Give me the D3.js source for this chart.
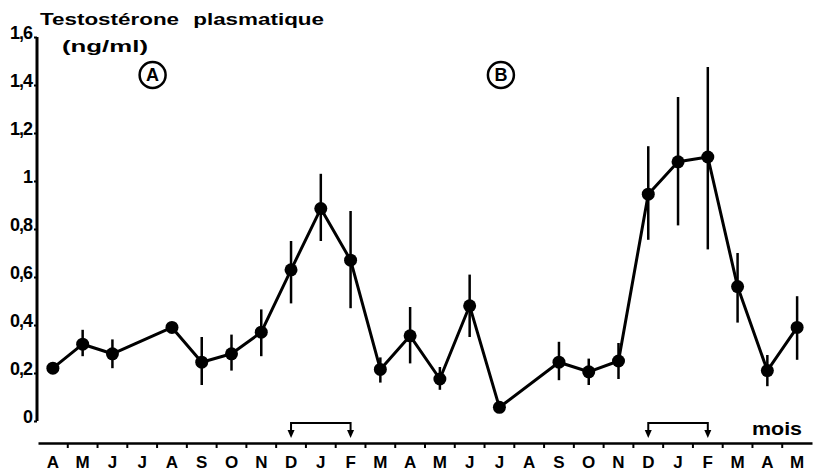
<!DOCTYPE html>
<html>
<head>
<meta charset="utf-8">
<script src="https://cdn.jsdelivr.net/npm/d3@7"></script>
<style>
  body { margin: 0; background: #fff; }
  svg { display: block; font-family: "Liberation Sans", Arial, sans-serif; font-weight: bold; }
</style>
</head>
<body>
<svg width="817" height="471"></svg>
<script>
// months from April (year 1) to May (year 3)
let months = ["A", "M", "J", "J", "A", "S", "O", "N", "D", "J", "F", "M", "A",
              "M", "J", "J", "A", "S", "O", "N", "D", "J", "F", "M", "A", "M"]
// mean plasma testosterone (ng/ml), null = no sample
let values = [0.22, 0.32, 0.28, null, 0.39, 0.245, 0.28, 0.37, 0.63, 0.885, 0.67, 0.215, 0.355,
              0.175, 0.48, 0.057, null, 0.245, 0.205, 0.25, 0.945, 1.08, 1.10, 0.56, 0.21, 0.39]
let errLow = [null, 0.27, 0.22, null, null, 0.15, 0.21, 0.27, 0.49, 0.75, 0.47, 0.16, 0.24,
              0.13, 0.35, null, null, 0.17, 0.15, 0.175, 0.755, 0.815, 0.715, 0.41, 0.145, 0.255]
let errHigh = [null, 0.38, 0.34, null, null, 0.35, 0.36, 0.465, 0.75, 1.03, 0.875, 0.265, 0.475,
               0.225, 0.61, null, null, 0.33, 0.26, 0.325, 1.145, 1.35, 1.475, 0.70, 0.275, 0.52]
let yTicks = [0, 0.2, 0.4, 0.6, 0.8, 1, 1.2, 1.4, 1.6]
// treatment periods (month index start, end)
let periods = [[8, 10], [20, 22]]
let panels = [{ label: "A", at: 3.85 }, { label: "B", at: 15.55 }]

var svg = d3.select("svg")

var x = d3.scaleBand().domain(d3.range(months.length)).range([38, 812])
var y = d3.scaleLinear().domain([0, 1.6]).range([421, 37])
var cx = function (i) { return x(i) + x.bandwidth() / 2 }

var data = values.map(function (v, i) {
    return { i: i, v: v, lo: errLow[i], hi: errHigh[i] }
}).filter(function (d) { return d.v !== null })

// y axis
var yAxis = svg.append("g")
    .attr("transform", "translate(37,0)")
    .call(d3.axisLeft(y).tickValues(yTicks).tickSize(3).tickPadding(2)
        .tickFormat(function (d) { return String(d).replace(".", ",") }))
yAxis.select(".domain").attr("stroke-width", 3).attr("d", "M0," + y(1.6) + "V" + y(0))
yAxis.selectAll(".tick line").attr("stroke-width", 2)
yAxis.selectAll(".tick text")
    .attr("font-size", 18).attr("font-weight", "bold").attr("font-family", "Liberation Sans, Arial")
    .attr("fill", "#000").attr("letter-spacing", -1).attr("dy", "0.1em")

// x axis
var xAxis = svg.append("g")
    .attr("transform", "translate(0,443)")
    .call(d3.axisBottom(x).tickSize(0).tickPadding(13).tickFormat(function (i) { return months[i] }))
xAxis.select(".domain").attr("stroke-width", 2.5)
xAxis.selectAll(".tick text")
    .attr("font-size", 17).attr("font-weight", "bold").attr("font-family", "Liberation Sans, Arial")
    .attr("fill", "#000")
xAxis.selectAll(".bound")
    .data(d3.range(1, months.length))
    .enter().append("line")
    .attr("class", "bound")
    .attr("x1", function (i) { return x(i) }).attr("x2", function (i) { return x(i) })
    .attr("y1", 0).attr("y2", 5)
    .attr("stroke", "#000").attr("stroke-width", 2)

// title
svg.append("text").attr("x", 40).attr("y", 25)
    .attr("font-size", 17).attr("textLength", 284).attr("lengthAdjust", "spacingAndGlyphs")
    .attr("word-spacing", 6)
    .text("Testostérone plasmatique")
svg.append("text").attr("x", 62).attr("y", 52)
    .attr("font-size", 17).attr("textLength", 86).attr("lengthAdjust", "spacingAndGlyphs")
    .text("(ng/ml)")

// panel markers
var pm = svg.selectAll(".panel").data(panels).enter().append("g")
    .attr("class", "panel")
    .attr("transform", function (d) { return "translate(" + (x(0) + d.at * x.step()) + ",75)" })
pm.append("circle").attr("r", 13).attr("fill", "none").attr("stroke", "#000").attr("stroke-width", 2.5)
pm.append("text").attr("text-anchor", "middle").attr("dy", "0.36em").attr("font-size", 18)
    .text(function (d) { return d.label })

// treatment brackets
var br = svg.selectAll(".period").data(periods).enter().append("g").attr("class", "period")
br.append("path")
    .attr("d", function (d) {
        return "M" + cx(d[0]) + ",433V423H" + cx(d[1]) + "V433"
    })
    .attr("fill", "none").attr("stroke", "#000").attr("stroke-width", 2)
br.selectAll(".tip").data(function (d) { return d }).enter().append("path")
    .attr("d", function (i) { var px = cx(i); return "M" + (px - 3.5) + ",430L" + (px + 3.5) + ",430L" + px + ",438Z" })
    .attr("fill", "#000")

svg.append("text").attr("x", 752).attr("y", 435).attr("font-size", 18)
    .attr("textLength", 50).attr("lengthAdjust", "spacingAndGlyphs").text("mois")

// error bars
svg.selectAll(".err")
    .data(data.filter(function (d) { return d.lo !== null }))
    .enter().append("line")
    .attr("class", "err")
    .attr("x1", function (d) { return cx(d.i) }).attr("x2", function (d) { return cx(d.i) })
    .attr("y1", function (d) { return y(d.lo) }).attr("y2", function (d) { return y(d.hi) })
    .attr("stroke", "#000").attr("stroke-width", 2.5)

// line
svg.append("path")
    .datum(data)
    .attr("fill", "none").attr("stroke", "#000").attr("stroke-width", 3).attr("stroke-linejoin", "round")
    .attr("d", d3.line().x(function (d) { return cx(d.i) }).y(function (d) { return y(d.v) }))

// dots
svg.selectAll(".dot")
    .data(data)
    .enter().append("circle")
    .attr("class", "dot")
    .attr("cx", function (d) { return cx(d.i) })
    .attr("cy", function (d) { return y(d.v) })
    .attr("r", 6.5)
    .attr("fill", "#000")
</script>
</body>
</html>
